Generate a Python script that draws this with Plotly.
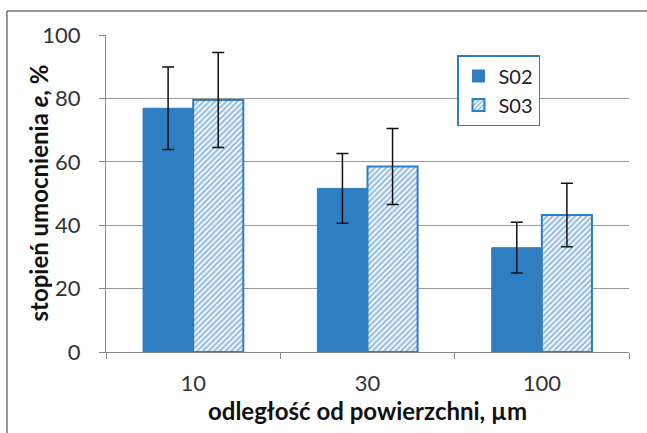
import plotly.graph_objects as go

categories = ["10", "30", "100"]
s02 = [76.9, 51.6, 32.9]
s02_err = [13.0, 11.0, 8.0]
s03 = [79.5, 58.5, 43.2]
s03_err = [15.0, 12.0, 10.0]

blue = "#2F7EC1"
W, H = 647, 433
L, R, T, B = 106, 18, 35, 81

fig = go.Figure()
fig.add_trace(go.Bar(
    name="S02", x=categories, y=s02,
    marker=dict(color=blue, line=dict(color=blue, width=1)),
    error_y=dict(type="data", array=s02_err, color="#111111", thickness=1.5, width=6),
))
fig.add_trace(go.Bar(
    name="S03", x=categories, y=s03,
    marker=dict(color="white", line=dict(color=blue, width=2),
                pattern=dict(shape="/", fgcolor=blue, bgcolor="white", size=4, solidity=0.55)),
    error_y=dict(type="data", array=s03_err, color="#111111", thickness=1.5, width=6),
))

pw = W - L - R
ph = H - T - B
fig.add_shape(type="rect", xref="paper", yref="paper",
              x0=(7 - L) / pw, x1=1.2, y0=-0.5, y1=(H - B - 11) / ph,
              line=dict(color="#333333", width=1), layer="below")

fig.add_annotation(
    text="<b>stopień umocnienia <i>e</i>, %</b>", textangle=-90,
    xref="paper", yref="paper", x=(38 - L) / pw, y=0.5,
    xanchor="center", yanchor="middle", showarrow=False,
    font=dict(size=24, color="#111111"),
)

fig.update_layout(
    width=W, height=H,
    margin=dict(l=L, r=R, t=T, b=B, pad=0),
    paper_bgcolor="white", plot_bgcolor="white",
    barmode="group", bargap=0.425, bargroupgap=0,
    font=dict(family="Lato, Open Sans, sans-serif", size=22, color="#333333"),
    showlegend=True,
    legend=dict(x=(457 - L) / pw, y=(H - B - 55) / ph, xanchor="left", yanchor="top",
                bgcolor="white", bordercolor=blue, borderwidth=1.5,
                font=dict(size=20, color="#222222"), tracegroupgap=2),
    xaxis=dict(
        type="category", tickson="boundaries", ticks="outside", ticklen=6,
        tickcolor="#888888", showline=True, linecolor="#888888", linewidth=1,
        showgrid=False, ticklabelstandoff=12,
        title=dict(text="<b>odległość od powierzchni, µm</b>", font=dict(size=24, color="#111111"), standoff=3),
    ),
    yaxis=dict(
        range=[0, 100], dtick=20, ticks="outside", ticklen=6, tickcolor="#888888",
        showline=True, linecolor="#888888", linewidth=1,
        showgrid=True, gridcolor="#999999", gridwidth=1,
        ticklabelstandoff=14,
    ),
)

fig.write_html("out.html", post_script="document.body.style.margin='0';",
               config={"displayModeBar": False})
